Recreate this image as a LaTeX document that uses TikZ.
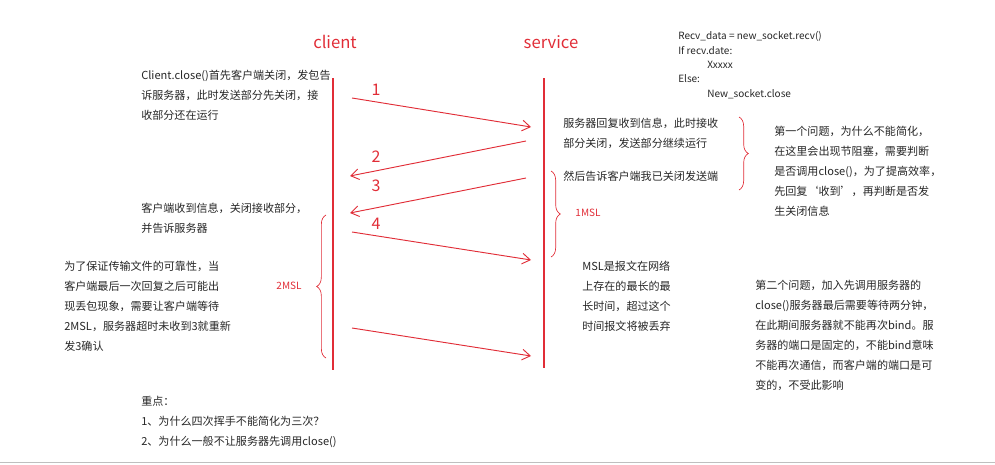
\documentclass[tikz,border=0pt]{standalone}
\usepackage{fontspec}
\setmainfont{Noto Sans CJK SC}
\usetikzlibrary{arrows.meta,decorations.pathreplacing}
\definecolor{rd}{RGB}{225,45,55}
\tikzset{
 txt/.style={anchor=north west,inner sep=0pt,align=left,font=\fontsize{8.3}{15}\selectfont,text=black!85},
 code/.style={anchor=west,inner sep=0pt,font=\fontsize{7.5}{10}\selectfont,text=black!85},
 life/.style={draw=rd,line width=0.9pt},
 msg/.style={draw=rd,line width=0.7pt,-{Straight Barb[length=6pt,width=8pt]}},
 num/.style={text=rd,font=\fontsize{12}{12}\selectfont,inner sep=0pt},
 brace/.style={draw=rd,line width=0.5pt,decorate,decoration={brace,amplitude=7pt}},
 bl/.style={text=rd,font=\fontsize{7.5}{8}\selectfont,inner sep=0pt}
}
\begin{document}
\begin{tikzpicture}[x=0.75pt,y=-0.75pt]
\useasboundingbox (0,0) rectangle (995,464);
\draw[black!25,line width=1pt] (0,462.5) -- (995,462.5);
\node[text=rd,font=\fontsize{12.5}{13}\selectfont] (cl) at (335,42) {client};
\node[text=rd,font=\fontsize{12.5}{13}\selectfont] (sv) at (551,42) {service};
\coordinate (c0) at (333,78); \coordinate (c1) at (333,370);
\coordinate (s0) at (544,78); \coordinate (s1) at (544,368);
\draw[life] (c0) -- (c1);
\draw[life] (s0) -- (s1);
% messages
\coordinate (a1) at (352,98);  \coordinate (b1) at (531,127);
\coordinate (a2) at (526,141); \coordinate (b2) at (350,176);
\coordinate (a3) at (526,178); \coordinate (b3) at (350,213);
\coordinate (a4) at (352,232); \coordinate (b4) at (531,260);
\coordinate (a5) at (352,328); \coordinate (b5) at (531,356);
\draw[msg] (a1) -- (b1);
\draw[msg] (a2) -- (b2);
\draw[msg] (a3) -- (b3);
\draw[msg] (a4) -- (b4);
\draw[msg] (a5) -- (b5);
\node[num] (n1) at (376,90) {1};
\node[num] (n2) at (376,157) {2};
\node[num] (n3) at (376,186) {3};
\node[num] (n4) at (376,224) {4};
% braces
\draw[brace] (326,358) -- (326,215);
\node[bl] (m2) at (289,286) {2MSL};
\draw[brace] (551,171) -- (551,257);
\node[bl] (m1) at (588,213) {1MSL};
\draw[brace] (739,117) -- (739,190);
% code
\node[code] (k1) at (678,36) {Recv\_data = new\_socket.recv()};
\node[code] (k2) at (678,51) {If recv.date:};
\node[code] (k3) at (707,65) {Xxxxx};
\node[code] (k4) at (678,79) {Else:};
\node[code] (k5) at (707,94) {New\_socket.close};
% texts
\node[txt] (t1) at (141,70) {Client.close()首先客户端关闭，发包告\\诉服务器，此时发送部分先关闭，接\\收部分还在运行};
\node[txt] (t2) at (141,203) {客户端收到信息，关闭接收部分，\\并告诉服务器};
\node[txt] (t3) at (64,261) {为了保证传输文件的可靠性，当\\客户端最后一次回复之后可能出\\现丢包现象，需要让客户端等待\\2MSL，服务器超时未收到3就重新\\发3确认};
\node[txt] (t4) at (141,396) {重点：\\1、为什么四次挥手不能简化为三次？\\2、为什么一般不让服务器先调用close()};
\node[txt] (t5) at (563,118) {服务器回复收到信息，此时接收\\部分关闭，发送部分继续运行};
\node[txt] (t6) at (563,171) {然后告诉客户端我已关闭发送端};
\node[txt] (t7) at (774,126) {第一个问题，为什么不能简化，\\在这里会出现节阻塞，需要判断\\是否调用close()，为了提高效率，\\先回复‘收到’，再判断是否发\\生关闭信息};
\node[txt] (t8) at (582,261) {MSL是报文在网络\\上存在的最长的最\\长时间，超过这个\\时间报文将被丢弃};
\node[txt] (t9) at (755,280) {第二个问题，加入先调用服务器的\\close()服务器最后需要等待两分钟，\\在此期间服务器就不能再次bind。服\\务器的端口是固定的，不能bind意味\\不能再次通信，而客户端的端口是可\\变的，不受此影响};
\end{tikzpicture}
\end{document}
